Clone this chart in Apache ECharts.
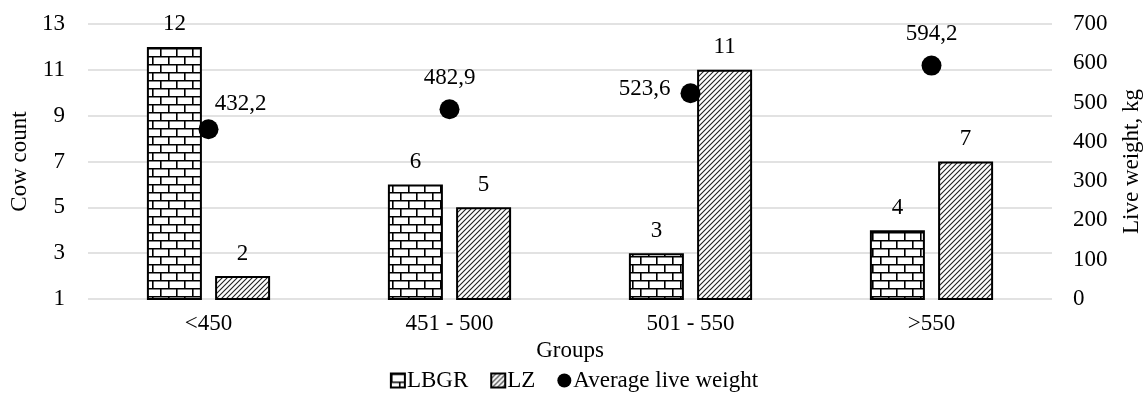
<!DOCTYPE html>
<html>
<head>
<meta charset="utf-8">
<script src="https://cdn.jsdelivr.net/npm/echarts@6/dist/echarts.min.js"></script>
<style>
  html, body { margin: 0; padding: 0; background: #fff; }
  #chart { width: 1148px; height: 394px; }
</style>
</head>
<body>
<div id="chart"></div>
<script>
var groups = ['<450', '451 - 500', '501 - 550', '>550'];
var lbgr = [12, 6, 3, 4];
var lz = [2, 5, 11, 7];
var avgWeight = [432.2, 482.9, 523.6, 594.2];

var font = 'Liberation Serif, Times New Roman, serif';
var fs = 23;

// brick texture for LBGR
function brickPattern () {
  var c = document.createElement('canvas');
  c.width = 16; c.height = 16;
  var ctx = c.getContext('2d');
  ctx.fillStyle = '#fff';
  ctx.fillRect(0, 0, 16, 16);
  ctx.strokeStyle = '#000';
  ctx.lineWidth = 1.6;
  ctx.beginPath();
  ctx.moveTo(0, 0.8); ctx.lineTo(16, 0.8);
  ctx.moveTo(0, 8.8); ctx.lineTo(16, 8.8);
  ctx.moveTo(0.8, 0); ctx.lineTo(0.8, 8);
  ctx.moveTo(8.8, 8); ctx.lineTo(8.8, 16);
  ctx.stroke();
  return c;
}

// diagonal hatch for LZ
function hatchPattern () {
  var s = 5;
  var c = document.createElement('canvas');
  c.width = s; c.height = s;
  var ctx = c.getContext('2d');
  ctx.fillStyle = '#fff';
  ctx.fillRect(0, 0, s, s);
  ctx.strokeStyle = '#222';
  ctx.lineWidth = 1.1;
  ctx.beginPath();
  ctx.moveTo(-1, s + 1); ctx.lineTo(s + 1, -1);
  ctx.moveTo(-1, 1); ctx.lineTo(1, -1);
  ctx.moveTo(s - 1, s + 1); ctx.lineTo(s + 1, s - 1);
  ctx.stroke();
  return c;
}

var chart = echarts.init(document.getElementById('chart'));

var avgLabels = [
  { position: 'top', offset: [32, 0], distance: 4 },
  { position: 'top', distance: 10 },
  { position: 'left', offset: [0, -4], distance: 10 },
  { position: 'top', distance: 10 }
];

var option = {
  animation: false,
  textStyle: { fontFamily: font, color: '#000' },
  grid: { left: 88, right: 96, top: 24, bottom: 95, outerBoundsMode: 'none', containLabel: false },
  legend: {
    bottom: -3,
    left: 'center',
    itemWidth: 14,
    itemHeight: 14,
    itemGap: 22,
    textStyle: { fontFamily: font, fontSize: fs, color: '#000', padding: [0, 0, 0, -3] },
    data: [
      { name: 'LBGR', icon: 'rect' },
      { name: 'LZ', icon: 'rect' },
      { name: 'Average live weight', icon: 'circle', itemStyle: { color: '#000', opacity: 1 } }
    ]
  },
  xAxis: {
    type: 'category',
    data: groups,
    name: 'Groups',
    nameLocation: 'middle',
    nameGap: 35,
    nameTextStyle: { fontFamily: font, fontSize: fs, color: '#000' },
    axisLine: { show: false },
    axisTick: { show: false },
    axisLabel: { fontFamily: font, fontSize: fs, color: '#000', margin: 13 }
  },
  yAxis: [
    {
      type: 'value',
      min: 1,
      max: 13,
      interval: 2,
      name: 'Cow count',
      nameLocation: 'middle',
      nameRotate: 90,
      nameGap: 56,
      nameTextStyle: { fontFamily: font, fontSize: fs, color: '#000' },
      axisLine: { show: false },
      axisTick: { show: false },
      axisLabel: { fontFamily: font, fontSize: fs, color: '#000', margin: 23 },
      splitLine: { lineStyle: { color: '#d9d9d9', width: 1.5 } }
    },
    {
      type: 'value',
      min: 0,
      max: 700,
      interval: 100,
      name: 'Live weight, kg',
      nameLocation: 'middle',
      nameRotate: 90,
      nameGap: 68,
      nameTextStyle: { fontFamily: font, fontSize: fs, color: '#000' },
      axisLine: { show: false },
      axisTick: { show: false },
      axisLabel: { fontFamily: font, fontSize: fs, color: '#000', margin: 21 },
      splitLine: { show: false }
    }
  ],
  series: [
    {
      name: 'LBGR',
      type: 'bar',
      data: lbgr,
      barWidth: 55,
      barGap: '24%',
      itemStyle: {
        color: { image: brickPattern(), repeat: 'repeat' },
        borderColor: '#000',
        borderWidth: 2
      },
      label: { show: true, position: 'top', distance: 11, fontFamily: font, fontSize: fs, color: '#000' }
    },
    {
      name: 'LZ',
      type: 'bar',
      data: lz,
      barWidth: 55,
      itemStyle: {
        color: { image: hatchPattern(), repeat: 'repeat' },
        borderColor: '#000',
        borderWidth: 2
      },
      label: { show: true, position: 'top', distance: 11, fontFamily: font, fontSize: fs, color: '#000' }
    },
    {
      name: 'Average live weight',
      type: 'scatter',
      yAxisIndex: 1,
      symbol: 'circle',
      symbolSize: 20,
      itemStyle: { color: '#000', opacity: 1 },
      z: 5,
      data: avgWeight.map(function (v, i) {
        return { value: v, label: avgLabels[i] };
      }),
      label: {
        show: true,
        fontFamily: font,
        fontSize: fs,
        color: '#000',
        formatter: function (p) { return String(p.value).replace('.', ','); }
      }
    }
  ]
};

chart.setOption(option);
</script>
</body>
</html>
